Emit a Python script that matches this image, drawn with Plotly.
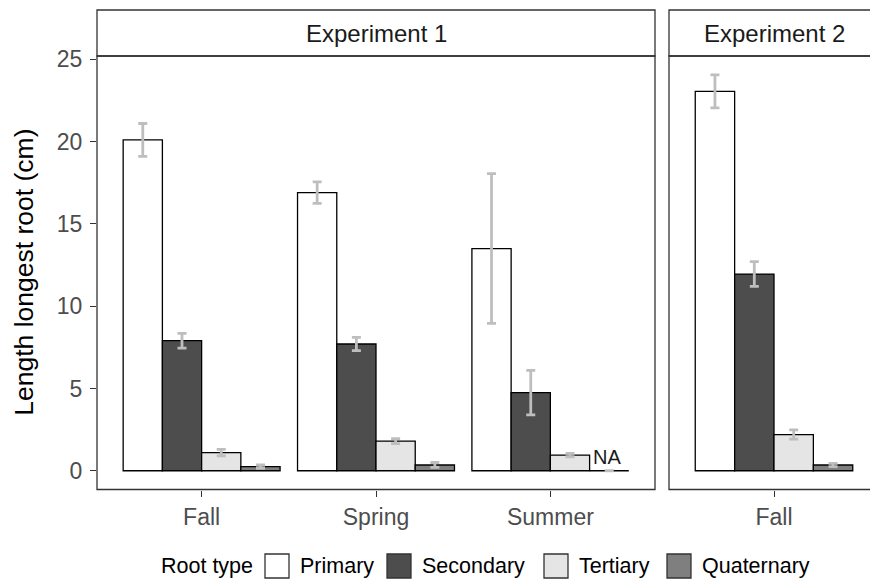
import plotly.graph_objects as go

# ---- data -------------------------------------------------------------
root_types = ["Primary", "Secondary", "Tertiary", "Quaternary"]
exp1_seasons = ["Fall", "Spring", "Summer"]
exp2_seasons = ["Fall"]

# mean length of the longest root (cm)
exp1_means = {
    "Primary":    [20.1, 16.9, 13.5],
    "Secondary":  [7.9, 7.7, 4.75],
    "Tertiary":   [1.1, 1.8, 0.95],
    "Quaternary": [0.25, 0.35, 0.0],
}
exp1_se = {
    "Primary":    [1.0, 0.65, 4.55],
    "Secondary":  [0.45, 0.4, 1.35],
    "Tertiary":   [0.2, 0.15, 0.1],
    "Quaternary": [0.1, 0.15, None],
}
exp2_means = {
    "Primary":    [23.05],
    "Secondary":  [11.95],
    "Tertiary":   [2.2],
    "Quaternary": [0.35],
}
exp2_se = {
    "Primary":    [1.0],
    "Secondary":  [0.75],
    "Tertiary":   [0.28],
    "Quaternary": [0.1],
}
na_label = {"season": "Summer", "root": "Quaternary", "text": "NA"}

y_ticks = [0, 5, 10, 15, 20, 25]

# ---- styling ------------------------------------------------------------
fills = {"Primary": "#FFFFFF", "Secondary": "#4D4D4D",
         "Tertiary": "#E5E5E5", "Quaternary": "#7F7F7F"}
FONT = "Liberation Sans, Arial, sans-serif"
LINE = "#333333"
W, H = 870, 582

def px(x):
    return x / W

def py(y):
    return (H - y) / H

# panel geometry (pixels)
p1_left, p1_right = 97, 655
p2_left = 669
panel_top, panel_bottom = 56, 489.5
strip_top = 10
unit_px = 175.0          # pixels per category step
y_lo, y_hi = -1.14, 25.2

fig = go.Figure()

for r in root_types:
    fig.add_trace(go.Bar(
        x=exp1_seasons, y=exp1_means[r], name=r,
        marker=dict(color=fills[r], line=dict(color="#000000", width=1.3)),
        error_y=dict(type="data", array=exp1_se[r], color="#BEBEBE",
                     thickness=2.8, width=4.5),
        xaxis="x", yaxis="y", showlegend=False,
    ))
    fig.add_trace(go.Bar(
        x=exp2_seasons, y=exp2_means[r], name=r,
        marker=dict(color=fills[r], line=dict(color="#000000", width=1.3)),
        error_y=dict(type="data", array=exp2_se[r], color="#BEBEBE",
                     thickness=2.8, width=4.5),
        xaxis="x2", yaxis="y2", showlegend=False,
    ))

tick_font = dict(family=FONT, size=23, color="#4D4D4D")
common_y = dict(range=[y_lo, y_hi], tickvals=y_ticks, showgrid=False,
                zeroline=False, showline=False, automargin=False)
common_x = dict(showgrid=False, zeroline=False, showline=False,
                ticks="outside", ticklen=6, tickwidth=1.3, tickcolor=LINE,
                tickfont=tick_font, ticklabelstandoff=1, automargin=False)

fig.update_layout(
    width=W, height=H,
    margin=dict(l=0, r=0, t=0, b=0, pad=0),
    paper_bgcolor="white", plot_bgcolor="white",
    barmode="group", bargap=0.1, bargroupgap=0,
    font=dict(family=FONT),
    xaxis=dict(domain=[px(p1_left), px(p1_right)],
               range=[-0.6, 2.6], categoryorder="array",
               categoryarray=exp1_seasons, anchor="y", **common_x),
    xaxis2=dict(domain=[px(p2_left), 1.0],
                range=[-0.6, -0.6 + (W - p2_left) / unit_px],
                categoryorder="array", categoryarray=exp2_seasons,
                anchor="y2", **common_x),
    yaxis=dict(domain=[py(panel_bottom), py(panel_top)], anchor="x",
               ticks="outside", ticklen=6, tickwidth=1.3, tickcolor=LINE,
               tickfont=tick_font, ticklabelstandoff=3, **common_y),
    yaxis2=dict(domain=[py(panel_bottom), py(panel_top)], anchor="x2",
                matches="y", showticklabels=False, ticks="", **common_y),
)

shapes = []
# panel frames and facet strips
for x0, x1 in [(p1_left, p1_right), (p2_left, W + 10)]:
    shapes.append(dict(type="rect", xref="paper", yref="paper",
                       x0=px(x0), x1=px(x1), y0=py(panel_bottom), y1=py(panel_top),
                       line=dict(color=LINE, width=1.3), fillcolor="rgba(0,0,0,0)",
                       layer="above"))
    shapes.append(dict(type="rect", xref="paper", yref="paper",
                       x0=px(x0), x1=px(x1), y0=py(panel_top), y1=py(strip_top),
                       line=dict(color=LINE, width=1.3), fillcolor="white",
                       layer="below"))

annotations = []
strip_font = dict(family=FONT, size=24, color="#1A1A1A")
annotations.append(dict(text="Experiment 1", xref="paper", yref="paper",
                        x=px((p1_left + p1_right) / 2), y=py((strip_top + panel_top) / 2),
                        showarrow=False, font=strip_font,
                        xanchor="center", yanchor="middle"))
annotations.append(dict(text="Experiment 2", xref="paper", yref="paper",
                        x=px(p2_left + 0.6 * unit_px), y=py((strip_top + panel_top) / 2),
                        showarrow=False, font=strip_font,
                        xanchor="center", yanchor="middle"))

# axis title
annotations.append(dict(text="Length longest root (cm)", xref="paper", yref="paper",
                        x=px(24), y=py((panel_top + panel_bottom) / 2),
                        textangle=-90, showarrow=False,
                        font=dict(family=FONT, size=26.5, color="#000000"),
                        xanchor="center", yanchor="middle"))

# NA marker for the missing quaternary summer value
n = len(root_types)
slot = 0.9 / n
offset = -0.45 + slot * (root_types.index(na_label["root"]) + 0.5)
annotations.append(dict(text=na_label["text"], xref="x", yref="y",
                        x=exp1_seasons.index(na_label["season"]) + offset, y=0.85,
                        xshift=-2, showarrow=False,
                        font=dict(family=FONT, size=20, color="#1A1A1A"),
                        xanchor="center", yanchor="middle"))

# legend drawn along the bottom
leg_y = 566
box = 24
legend_font = dict(family=FONT, size=21.5, color="#000000")
annotations.append(dict(text="Root type", xref="paper", yref="paper",
                        x=px(159), y=py(leg_y), showarrow=False, font=legend_font,
                        xanchor="left", yanchor="middle"))
legend_box_left = [265, 387, 544, 667]
for r, bx in zip(root_types, legend_box_left):
    shapes.append(dict(type="rect", xref="paper", yref="paper",
                       x0=px(bx), x1=px(bx + box),
                       y0=py(leg_y + box / 2), y1=py(leg_y - box / 2),
                       fillcolor=fills[r], line=dict(color=LINE, width=1.3)))
    annotations.append(dict(text=r, xref="paper", yref="paper",
                            x=px(bx + box + 9), y=py(leg_y), showarrow=False,
                            font=legend_font, xanchor="left", yanchor="middle"))

fig.update_layout(shapes=shapes, annotations=annotations)
fig.write_html("out.html")
